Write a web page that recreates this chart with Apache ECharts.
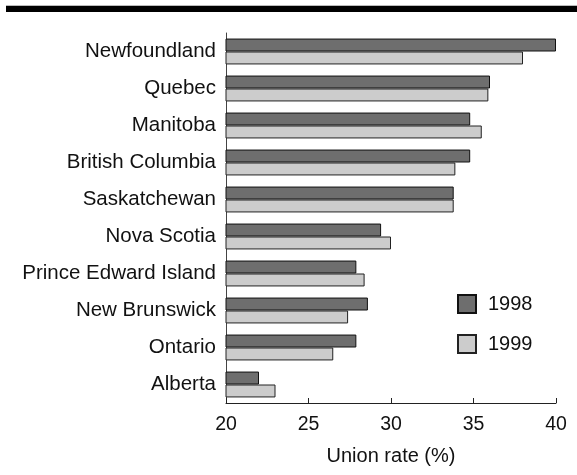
<!DOCTYPE html>
<html><head><meta charset="utf-8">
<script src="https://cdn.jsdelivr.net/npm/echarts@6/dist/echarts.min.js"></script>
<style>html,body{margin:0;padding:0;background:#fff}#c{width:577px;height:475px}</style>
</head><body><div id="c"></div>
<script>
const categories = ['Newfoundland','Quebec','Manitoba','British Columbia','Saskatchewan','Nova Scotia','Prince Edward Island','New Brunswick','Ontario','Alberta'];
const values1998 = [40.0, 36.0, 34.8, 34.8, 33.8, 29.4, 27.9, 28.6, 27.9, 22.0];
const values1999 = [38.0, 35.9, 35.5, 33.9, 33.8, 30.0, 28.4, 27.4, 26.5, 23.0];
const xTicks = [20, 25, 30, 35, 40];

const chart = echarts.init(document.getElementById('c'), null, {renderer:'canvas'});
const font = 'Liberation Sans, Arial, sans-serif';
chart.setOption({
  animation:false,
  backgroundColor:'#fff',
  textStyle:{fontFamily:font},
  graphic:[
    {type:'rect', shape:{x:6,y:5,width:571,height:1}, style:{fill:'#bbbbbb'}},
    {type:'rect', shape:{x:6,y:6,width:571,height:6}, style:{fill:'#000'}}
  ],
  legend:{
    orient:'vertical', left:452, top:289, itemWidth:18, itemHeight:18, itemGap:20,
    icon:'rect',
    textStyle:{fontSize:20, lineHeight:20, color:'#111', fontFamily:font, padding:[0,0,0,7]},
    data:['1998','1999']
  },
  grid:{left:226, right:21, top:33, bottom:72},
  xAxis:{
    type:'value', min:xTicks[0], max:xTicks[xTicks.length-1], interval:5,
    name:'Union rate (%)', nameLocation:'middle', nameGap:43,
    nameTextStyle:{fontSize:20, color:'#111', fontFamily:font},
    axisLine:{show:true, lineStyle:{color:'#222', width:1}},
    axisTick:{show:true, length:5, inside:true, lineStyle:{color:'#222'}},
    axisLabel:{fontSize:19.5, color:'#111', margin:12, fontFamily:font},
    splitLine:{show:false}
  },
  yAxis:{
    type:'category', data:categories, inverse:true,
    axisLine:{show:true, lineStyle:{color:'#444', width:1}},
    axisTick:{show:false},
    axisLabel:{fontSize:20.5, color:'#111', margin:10, fontFamily:font}
  },
  series:[
    {name:'1998', type:'bar', data:values1998, barGap:'0%', barCategoryGap:'30%',
     itemStyle:{color:'#6e6e6e', borderColor:'#111', borderWidth:1}},
    {name:'1999', type:'bar', data:values1999, barGap:'0%', barCategoryGap:'30%',
     itemStyle:{color:'#cccccc', borderColor:'#222', borderWidth:1}}
  ]
});
</script></body></html>
